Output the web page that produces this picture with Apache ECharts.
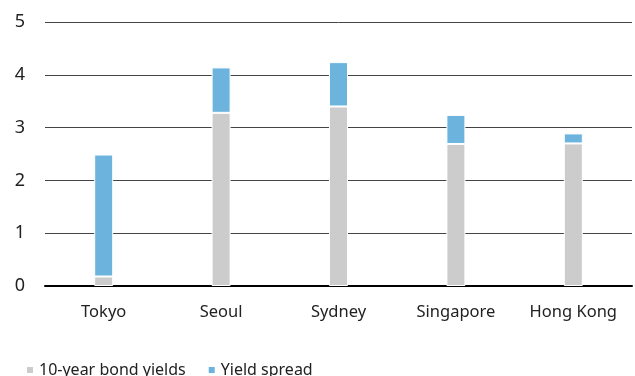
<!DOCTYPE html>
<html><head><meta charset="utf-8">
<script src="https://cdn.jsdelivr.net/npm/echarts@6/dist/echarts.min.js"></script>
<style>html,body{margin:0;padding:0;background:#fff}#c{width:635px;height:376px}</style>
</head><body><div id="c"></div>
<script>
const categories = ['Tokyo', 'Seoul', 'Sydney', 'Singapore', 'Hong Kong'];
const bondYields = [0.18, 3.28, 3.40, 2.69, 2.70];
const yieldSpread = [2.31, 0.86, 0.84, 0.55, 0.19];
const seriesNames = ['10-year bond yields', 'Yield spread'];
const yTicks = [0, 1, 2, 3, 4, 5];

const chart = echarts.init(document.getElementById('c'));
const font = 'Noto Sans';
chart.setOption({
  animation: false,
  grid: { left: 45, right: 3, top: 22, bottom: 90 },
  legend: {
    data: seriesNames, left: 20, top: 357, icon: 'rect', itemWidth: 8, itemHeight: 8, itemGap: 21,
    textStyle: { fontFamily: font, fontSize: 16, color: '#222' }
  },
  xAxis: {
    type: 'category', data: categories,
    axisLine: { lineStyle: { color: '#000', width: 2 } },
    axisTick: { show: false },
    axisLabel: { fontFamily: font, fontSize: 16.5, color: '#222', margin: 18, interval: 0 }
  },
  yAxis: {
    type: 'value', min: yTicks[0], max: yTicks[yTicks.length - 1], interval: 1,
    axisLine: { show: false }, axisTick: { show: false },
    axisLabel: { fontFamily: font, fontSize: 18, color: '#222', margin: 25, align: 'center' },
    splitLine: { lineStyle: { color: '#444', width: 1 } }
  },
  series: [
    { name: seriesNames[0], type: 'bar', stack: 's', data: bondYields, barWidth: 19,
      itemStyle: { color: '#cccccc', borderColor: '#fff', borderWidth: 1 } },
    { name: seriesNames[1], type: 'bar', stack: 's', data: yieldSpread, barWidth: 19,
      itemStyle: { color: '#6cb4de', borderColor: '#fff', borderWidth: 1 } }
  ]
});
</script></body></html>
